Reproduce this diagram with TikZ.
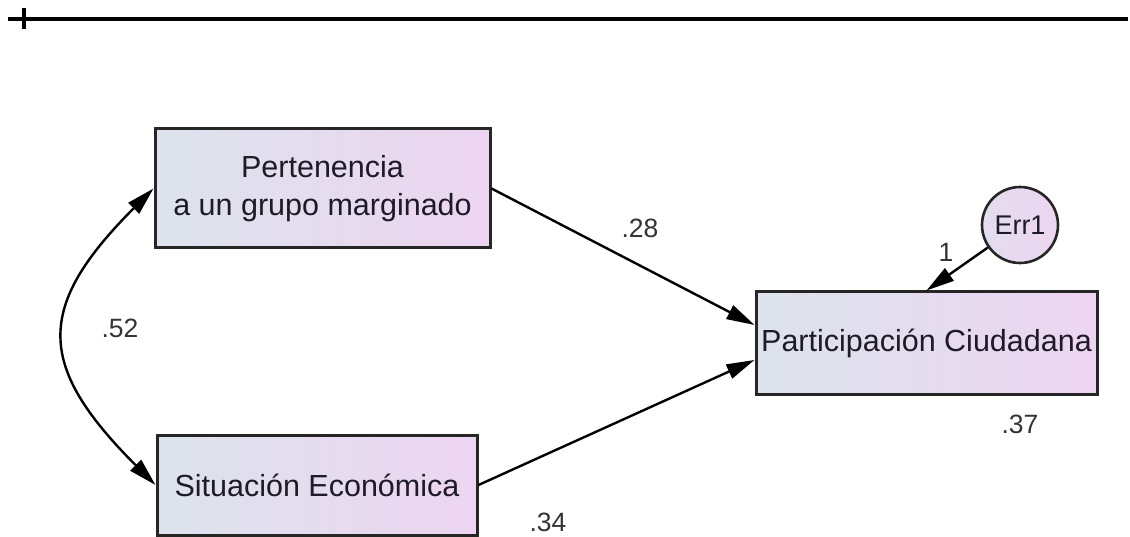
\documentclass[tikz,border=0pt]{standalone}
\usepackage{fontspec}
\setmainfont{Liberation Sans}
\usetikzlibrary{arrows.meta}
\definecolor{boxleft}{HTML}{DCE3EC}
\definecolor{boxright}{HTML}{EDD5F1}
\definecolor{edge}{HTML}{262626}
\definecolor{txt}{HTML}{1E1A28}
\definecolor{lbl}{HTML}{333333}
\begin{document}
\begin{tikzpicture}[x=1pt,y=-1pt,
  varbox/.style={draw=edge,line width=3pt,left color=boxleft,right color=boxright,
    text=txt,font=\fontsize{30.5}{38}\selectfont,align=center,inner sep=0pt},
  errnode/.style={circle,draw=edge,line width=2.6pt,left color=boxleft!60!boxright,right color=boxright,
    minimum size=76pt,inner sep=0pt,text=txt,font=\fontsize{27}{28}\selectfont},
  path/.style={draw=black,line width=2.4pt,-{Triangle[length=28pt,width=15pt]}},
  cov/.style={draw=black,line width=2.4pt,{Triangle[length=28pt,width=15pt]}-{Triangle[length=28pt,width=15pt]}},
  coef/.style={text=lbl,font=\fontsize{26.5}{28}\selectfont,inner sep=0pt}]
\useasboundingbox (0,0) rectangle (1130,537);
% top rule
\coordinate (rl) at (8,19);
\coordinate (rr) at (1128,19);
\coordinate (tt) at (24,8);
\coordinate (tb) at (24,29);
\draw[line width=4pt] (rl) -- (rr);
\draw[line width=3.5pt] (tt) -- (tb);
% nodes
\node[varbox,minimum width=335pt,minimum height=119pt] (p1) at (322.5,188.5) {Pertenencia\\a un grupo marginado};
\node[varbox,minimum width=320pt,minimum height=100pt] (p2) at (317,485) {Situación Económica};
\node[varbox,minimum width=341pt,minimum height=102pt] (p3) at (926.5,343) {Participación Ciudadana};
\node[errnode] (e1) at (1020,225) {Err1};
% connectors
\draw[path] (p1.east) -- ([yshift=18pt]p3.west);
\draw[path] (p2.east) -- ([yshift=-17pt]p3.west);
\draw[path] (e1) -- (p3.north);
\draw[cov] (p1.west) to[out=225,in=135,looseness=1.45] (p2.west);
% labels
\node[coef] (l28) at (640,228) {.28};
\node[coef] (l52) at (120,328) {.52};
\node[coef] (l1) at (946,252) {1};
\node[coef] (l37) at (1020,424) {.37};
\node[coef] (l34) at (548,522) {.34};
\end{tikzpicture}
\end{document}
